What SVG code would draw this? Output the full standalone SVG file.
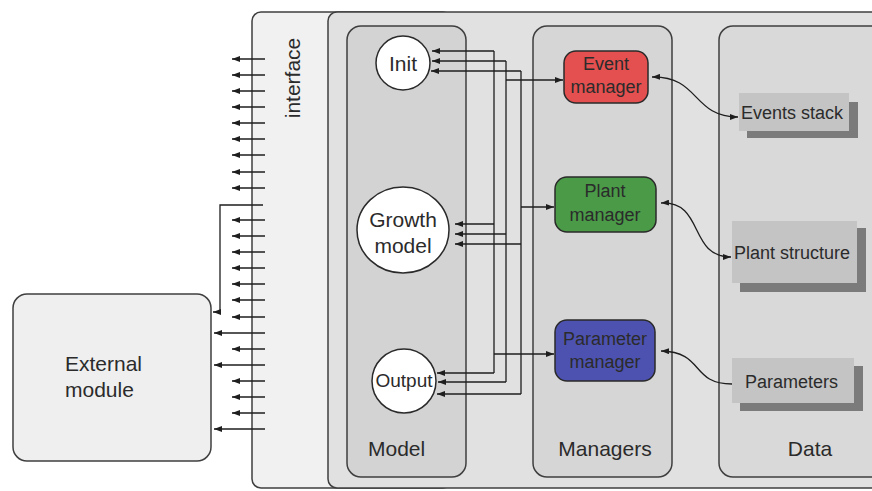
<svg xmlns="http://www.w3.org/2000/svg" width="872" height="491" viewBox="0 0 872 491">
  <style>
    .panel { stroke: #3f3f3f; stroke-width: 1.5; }
    .col { stroke: #3f3f3f; stroke-width: 1.5; }
    .module { fill: #ffffff; stroke: #2a2a2a; stroke-width: 1.5; }
    .mgr { stroke: #2a2a2a; stroke-width: 1.5; }
    .store { fill: #c4c4c4; }
    .shadow { fill: #7b7b7b; }
    .wire { fill: none; stroke: #1e1e1e; stroke-width: 1.3; }
    .arr { marker-end: url(#head); }
    .both { marker-start: url(#head); marker-end: url(#head); }
    text { font-family: "Liberation Sans", Arial, sans-serif; fill: #2b2b2b; }
    .big { font-size: 21px; }
    .mid { font-size: 18px; }
    .c { text-anchor: middle; }
  </style>
  <defs>
    <marker id="head" viewBox="0 0 8 6" refX="8" refY="3" markerWidth="8" markerHeight="6" markerUnits="userSpaceOnUse" orient="auto-start-reverse">
      <path d="M0,0 L8,3 L0,6 z" fill="#1e1e1e"/>
    </marker>
  </defs>

  <rect width="872" height="491" fill="#ffffff"/>

  <!-- outer panels -->
  <g id="interface">
    <rect class="panel" x="252" y="12" width="200" height="476" rx="9" fill="#f1f1f1"/>
    <text class="big c" transform="translate(300,78) rotate(-90)">interface</text>
  </g>
  <g id="core">
    <rect class="panel" x="328" y="12" width="560" height="476" rx="9" fill="#e1e1e1"/>
  </g>

  <!-- columns -->
  <g id="model-column">
    <rect class="col" x="347" y="26" width="119" height="451" rx="14" fill="#d3d3d3"/>
    <text class="big" x="368" y="456">Model</text>
  </g>
  <g id="managers-column">
    <rect class="col" x="533" y="26" width="139" height="451" rx="14" fill="#d6d6d6"/>
    <text class="big c" x="605" y="456">Managers</text>
  </g>
  <g id="data-column">
    <rect class="col" x="719" y="26" width="200" height="451" rx="14" fill="#d9d9d9"/>
    <text class="big c" x="810" y="456">Data</text>
  </g>

  <!-- model modules -->
  <g id="init">
    <circle class="module" cx="403" cy="63" r="27"/>
    <text class="big c" x="403" y="71">Init</text>
  </g>
  <g id="growth-model">
    <ellipse class="module" cx="403" cy="230" rx="46" ry="43"/>
    <text class="big c" x="403" y="227">Growth</text>
    <text class="big c" x="403" y="253">model</text>
  </g>
  <g id="output">
    <circle class="module" cx="404" cy="381" r="32"/>
    <text class="c" x="404" y="387" font-size="19">Output</text>
  </g>

  <!-- managers -->
  <g id="event-manager">
    <rect class="mgr" x="564" y="51" width="84" height="52" rx="12" fill="#e3504f"/>
    <text class="mid c" x="606" y="70">Event</text>
    <text class="mid c" x="606" y="93">manager</text>
  </g>
  <g id="plant-manager">
    <rect class="mgr" x="555" y="177" width="101" height="55" rx="12" fill="#4a9a48"/>
    <text class="mid c" x="605" y="197">Plant</text>
    <text class="mid c" x="605" y="221">manager</text>
  </g>
  <g id="parameter-manager">
    <rect class="mgr" x="555" y="320" width="100" height="61" rx="12" fill="#4d52b0"/>
    <text class="mid c" x="605" y="345">Parameter</text>
    <text class="mid c" x="605" y="368">manager</text>
  </g>

  <!-- data stores -->
  <g id="events-stack">
    <rect class="shadow" x="747" y="102" width="111" height="36"/>
    <rect class="store" x="739" y="93" width="110" height="38"/>
    <text class="mid" x="741" y="119">Events stack</text>
  </g>
  <g id="plant-structure">
    <rect class="shadow" x="740" y="228" width="126" height="64"/>
    <rect class="store" x="732" y="221" width="125" height="62"/>
    <text class="mid" x="734" y="259">Plant structure</text>
  </g>
  <g id="parameters">
    <rect class="shadow" x="740" y="366" width="123" height="45"/>
    <rect class="store" x="732" y="358" width="122" height="45"/>
    <text class="mid" x="745" y="388">Parameters</text>
  </g>

  <!-- external module -->
  <g id="external-module">
    <rect x="13" y="294" width="198" height="167" rx="14" fill="#efefef" stroke="#3f3f3f" stroke-width="1.5"/>
    <text class="big" x="65" y="371">External</text>
    <text class="big" x="65" y="397">module</text>
  </g>

  <g id="connectors">
    <!-- interface exports -->
    <path class="wire arr" d="M265,59 H232"/>
    <path class="wire arr" d="M265,75 H232"/>
    <path class="wire arr" d="M265,91 H232"/>
    <path class="wire arr" d="M265,107 H232"/>
    <path class="wire arr" d="M265,123 H232"/>
    <path class="wire arr" d="M265,139 H232"/>
    <path class="wire arr" d="M265,155 H232"/>
    <path class="wire arr" d="M265,172 H232"/>
    <path class="wire arr" d="M265,188 H232"/>
    <path class="wire arr" d="M263,205 H220 V312 H213"/>
    <path class="wire arr" d="M265,220 H232"/>
    <path class="wire arr" d="M265,236 H232"/>
    <path class="wire arr" d="M265,252 H232"/>
    <path class="wire arr" d="M265,268 H232"/>
    <path class="wire arr" d="M265,284 H232"/>
    <path class="wire arr" d="M265,300 H232"/>
    <path class="wire arr" d="M265,317 H232"/>
    <path class="wire arr" d="M265,333 H214"/>
    <path class="wire arr" d="M265,349 H232"/>
    <path class="wire arr" d="M265,365 H214"/>
    <path class="wire arr" d="M265,381 H232"/>
    <path class="wire arr" d="M265,397 H232"/>
    <path class="wire arr" d="M265,413 H232"/>
    <path class="wire arr" d="M265,429 H214"/>

    <!-- parameter manager bus -->
    <path class="wire" d="M494,51 V373"/>
    <path class="wire arr" d="M494,51 H432"/>
    <path class="wire arr" d="M494,224 H455"/>
    <path class="wire arr" d="M494,373 H437"/>
    <path class="wire arr" d="M494,354 H554"/>

    <!-- event manager bus -->
    <path class="wire" d="M506,61 V382"/>
    <path class="wire arr" d="M506,61 H432"/>
    <path class="wire arr" d="M506,234 H455"/>
    <path class="wire arr" d="M506,382 H438"/>
    <path class="wire arr" d="M506,80 H563"/>

    <!-- plant manager bus -->
    <path class="wire" d="M521,71 V394"/>
    <path class="wire arr" d="M521,71 H431"/>
    <path class="wire arr" d="M521,244 H455"/>
    <path class="wire arr" d="M521,394 H437"/>
    <path class="wire arr" d="M521,207 H554"/>

    <!-- manager to data links -->
    <path class="wire both" d="M652,77 C700,76 692,117 738,117"/>
    <path class="wire both" d="M661,203 C705,201 688,257 731,257"/>
    <path class="wire" marker-start="url(#head)" d="M661,351 C705,352 690,384 732,384"/>
  </g>
</svg>
